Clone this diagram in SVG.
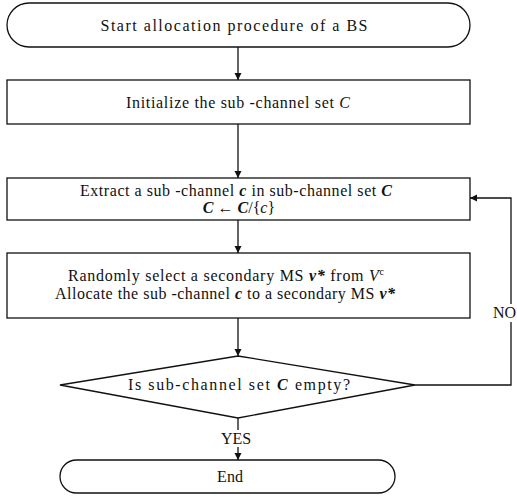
<svg xmlns="http://www.w3.org/2000/svg" width="517" height="497" viewBox="0 0 517 497">
<style>
.s{fill:#fff;stroke:#111;stroke-width:1.3}
.t{font-family:"Liberation Serif",serif;font-size:16px;fill:#111;text-anchor:middle}
.m{font-weight:bold;font-style:italic}
.c{stroke:#111;stroke-width:1.3;fill:none}
</style>
<defs>
<marker id="ah" markerWidth="8" markerHeight="8" refX="7" refY="4" orient="auto" markerUnits="userSpaceOnUse">
<path d="M0,0.5 L7,4 L0,7.5 Z" fill="#111"/>
</marker>
</defs>
<rect width="517" height="497" fill="#fff"/>
<g id="start">
<rect class="s" x="7" y="3" width="463" height="44" rx="22" ry="22"/>
<text class="t" x="234" y="31" textLength="267" lengthAdjust="spacing">Start allocation procedure of a BS</text>
</g>
<g id="init">
<rect class="s" x="7" y="80" width="463" height="44"/>
<text class="t" x="238" y="108" textLength="224" lengthAdjust="spacing">Initialize the sub -channel set <tspan font-style="italic">C</tspan></text>
</g>
<g id="extract">
<rect class="s" x="7" y="178" width="463" height="42"/>
<text class="t" x="236" y="196" textLength="312" lengthAdjust="spacing">Extract a sub -channel <tspan class="m">c</tspan> in sub-channel set <tspan class="m">C</tspan></text>
<text class="t" x="239" y="213"><tspan class="m">C</tspan> ← <tspan class="m">C</tspan>/{<tspan font-style="italic">c</tspan>}</text>
</g>
<g id="allocate">
<rect class="s" x="7" y="253" width="463" height="65"/>
<text class="t" x="226" y="281" textLength="316" lengthAdjust="spacing">Randomly select a secondary MS  <tspan class="m">v*</tspan> from <tspan font-style="italic">V</tspan><tspan font-size="10" dy="-6">c</tspan></text>
<text class="t" x="225" y="299" textLength="340" lengthAdjust="spacing">Allocate the sub -channel <tspan class="m">c</tspan> to a secondary MS  <tspan class="m">v*</tspan></text>
</g>
<g id="decision">
<path class="s" d="M238,356 L415,385 L238,418 L60,385 Z"/>
<text class="t" x="239" y="390" textLength="222" lengthAdjust="spacing">Is sub-channel set  <tspan class="m">C</tspan> empty?</text>
</g>
<g id="end">
<rect class="s" x="60" y="460" width="335" height="33" rx="16.5" ry="16.5"/>
<text class="t" x="230" y="482">End</text>
</g>
<g id="connectors">
<path class="c" d="M238,47 V80" marker-end="url(#ah)"/>
<path class="c" d="M238,124 V178" marker-end="url(#ah)"/>
<path class="c" d="M238,220 V253" marker-end="url(#ah)"/>
<path class="c" d="M238,318 V356" marker-end="url(#ah)"/>
<path class="c" d="M238,418 V430"/>
<path class="c" d="M238,447 V460" marker-end="url(#ah)"/>
<path class="c" d="M415,385 H511 V322"/>
<path class="c" d="M511,304 V198 H470" marker-end="url(#ah)"/>
<text class="t" x="236" y="444" font-size="13">YES</text>
<text class="t" x="516" y="318" font-size="12" style="text-anchor:end">NO</text>
</g>
</svg>
